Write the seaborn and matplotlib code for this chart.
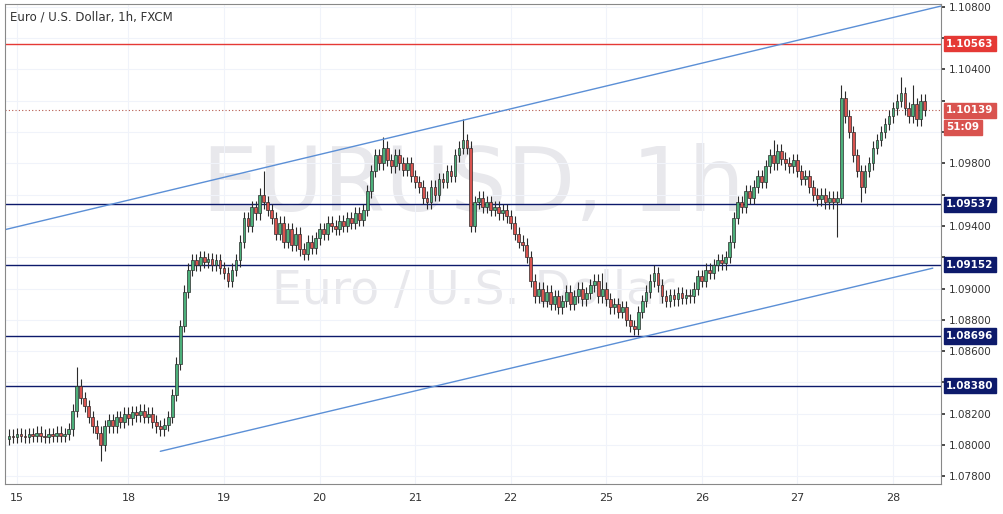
import numpy as np
import pandas as pd
import matplotlib
matplotlib.use("Agg")
import matplotlib.pyplot as plt
import seaborn as sns

closes = [1.0806,1.0805,1.0807,1.0806,1.0805,1.0807,1.0806,1.0808,1.0806,1.0805,1.0807,1.0806,1.0808,1.0806,1.0807,1.0810,
1.0822,1.0838,1.0830,1.0825,
1.0818,1.0812,1.0808,1.0800,1.0812,1.0816,1.0812,1.0818,1.0815,1.0820,1.0817,1.0821,1.0819,
1.0822,1.0818,1.0820,1.0815,1.0812,1.0810,1.0813,
1.0818,1.0832,1.0852,1.0876,1.0898,1.0912,
1.0918,1.0915,1.0920,1.0917,1.0919,1.0915,1.0918,1.0913,1.0910,1.0905,1.0912,1.0918,
1.0930,1.0945,1.0940,1.0952,1.0948,1.0960,1.0955,1.0950,
1.0945,1.0935,1.0942,1.0930,1.0938,1.0928,1.0935,1.0925,1.0922,1.0930,1.0926,1.0932,
1.0938,1.0935,1.0942,1.0940,1.0938,1.0943,1.0940,1.0945,1.0942,1.0948,1.0944,1.0950,
1.0962,1.0975,1.0985,1.0980,1.0990,
1.0982,1.0978,1.0985,1.0980,1.0976,1.0980,1.0972,1.0968,1.0965,1.0958,1.0955,
1.0965,1.0960,1.0970,1.0968,1.0975,1.0972,1.0985,1.0990,1.0995,1.0990,
1.0940,
1.0955,1.0958,1.0952,1.0955,1.0950,1.0952,1.0948,1.0950,1.0946,1.0942,1.0935,1.0930,
1.0928,1.0920,1.0905,1.0895,1.0900,1.0892,1.0898,
1.0890,1.0895,1.0888,1.0892,1.0898,1.0890,1.0895,1.0900,1.0893,1.0897,1.0902,1.0905,1.0895,1.0900,
1.0893,1.0888,1.0890,1.0885,1.0888,1.0880,1.0876,1.0874,1.0885,
1.0892,1.0898,1.0905,1.0910,1.0902,
1.0895,1.0892,1.0896,1.0893,1.0897,1.0894,1.0896,1.0895,
1.0900,1.0908,1.0905,1.0912,1.0910,1.0915,1.0918,1.0916,1.0920,1.0930,1.0945,
1.0955,1.0952,1.0962,1.0958,1.0965,
1.0972,1.0968,1.0978,1.0985,1.0980,1.0988,1.0983,1.0980,
1.0978,1.0982,1.0975,1.0970,1.0972,1.0965,1.0960,1.0957,1.0960,1.0955,1.0958,1.0955,
1.0958,1.1022,
1.1010,1.1000,1.0985,1.0975,1.0965,
1.0975,1.0980,1.0990,1.0995,1.1000,1.1005,1.1010,1.1015,
1.1020,1.1025,1.1015,1.1010,1.1018,1.1008,1.1020,1.1014]
first_open = 1.0804
high_over = {17:1.0850, 64:1.0975, 94:1.0997, 114:1.1008, 149:1.0910, 162:1.0915,
             192:1.0995, 209:1.1030, 224:1.1035, 227:1.1030}
low_over = {23:1.0790, 157:1.0870, 208:1.0933, 214:1.0955}
wick = 0.0004

day_labels = ["15","18","19","20","21","22","25","26","27","28"]
day_pos = [2,30,54,78,102,126,150,174,198,222]
levels_blue = [1.09537, 1.09152, 1.08696, 1.08380]
level_red = 1.10563
last_price = 1.10139
upper_channel = ([-2, 235], [1.0937, 1.1081])
lower_channel = ([38, 232], [1.0796, 1.0913])

sns.set_theme(style="white")
plt.rcParams['font.family'] = ['DejaVu Sans']

n = len(closes)
opens = [first_open] + closes[:-1]
df = pd.DataFrame({"i": np.arange(n), "open": opens, "close": closes})
df["high"] = [high_over.get(i, max(o, c) + wick) for i, o, c in zip(df.i, df.open, df.close)]
df["low"] = [low_over.get(i, min(o, c) - wick) for i, o, c in zip(df.i, df.open, df.close)]

fig = plt.figure(figsize=(10.04, 5.14), dpi=100)
ax = fig.add_axes([0.005, 0.058, 0.932, 0.935])

ax.text(0.5, 0.62, "EURUSD, 1h", transform=ax.transAxes, ha="center", va="center",
        fontsize=64, color="#e8e8ec", zorder=0)
ax.text(0.5, 0.40, "Euro / U.S. Dollar", transform=ax.transAxes, ha="center", va="center",
        fontsize=34, color="#e8e8ec", zorder=0)

green, red, edge = "#4caf7a", "#d9534f", "#2b2b2b"
up = df.close >= df.open
ax.vlines(df.i, df.low, df.high, color=edge, lw=0.8, zorder=2)
for mask, col in [(up, green), (~up, red)]:
    d = df[mask]
    ax.bar(d.i, (d.close - d.open).abs().clip(lower=0.00005), bottom=np.minimum(d.open, d.close),
           width=0.7, color=col, edgecolor=edge, lw=0.5, zorder=3)

for lv in levels_blue:
    ax.axhline(lv, color="#0d1a6b", lw=1.0, zorder=1)
ax.axhline(level_red, color="#e53935", lw=1.0, zorder=1)
ax.axhline(last_price, color="#b5584d", lw=0.8, ls=(0, (1, 2)), zorder=1)
sns.lineplot(x=upper_channel[0], y=upper_channel[1], ax=ax, color="#5b8fd6", lw=1.0)
sns.lineplot(x=lower_channel[0], y=lower_channel[1], ax=ax, color="#5b8fd6", lw=1.0)

ax.set_xlim(-1, 234)
ax.set_ylim(1.0775, 1.1082)
ax.set_xticks(day_pos)
ax.set_xticklabels(day_labels, fontsize=8)
tag_levels = [level_red, last_price, last_price - 0.0011] + levels_blue
yt = np.arange(1.078, 1.1081, 0.002)
ax.yaxis.tick_right()
ax.set_yticks(yt)
ax.set_yticklabels(["" if min(abs(v - t) for t in tag_levels) < 0.0008 else f"{v:.5f}" for v in yt],
                   fontsize=7.5)
ax.grid(True, color="#f0f3fa", lw=0.8)
for s in ax.spines.values():
    s.set_color("#888888"); s.set_linewidth(0.8)
ax.tick_params(axis="both", length=3, colors="#333333", pad=3)

ax.text(0.005, 0.985, "Euro / U.S. Dollar, 1h, FXCM", transform=ax.transAxes,
        fontsize=8.5, va="top", color="#333333")

def tag(y, txt, fc):
    ax.annotate(txt, xy=(1.0, y), xycoords=("axes fraction", "data"), xytext=(4, 0),
                textcoords="offset points", va="center", ha="left", fontsize=7.5,
                color="white", fontweight="bold",
                bbox=dict(boxstyle="square,pad=0.25", fc=fc, ec=fc), zorder=10,
                annotation_clip=False)
tag(level_red, "1.10563", "#e53935")
tag(last_price, "1.10139", "#d9534f")
tag(last_price - 0.0011, "51:09", "#d9534f")
for lv in levels_blue:
    tag(lv, f"{lv:.5f}", "#0d1a6b")

fig.savefig("out.png", dpi=100)
